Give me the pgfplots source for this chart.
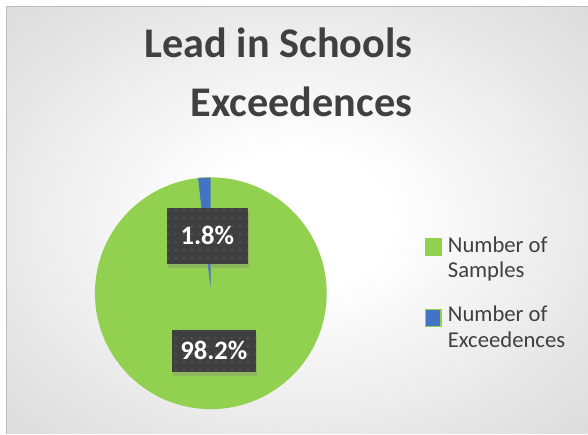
\documentclass[border=0pt]{standalone}
\usepackage{pgfplots}
\usepackage{pgfplotstable}
\pgfplotsset{compat=1.18}
\usepackage{fontspec}
\setmainfont{Carlito}
\usetikzlibrary{patterns.meta,shadows}

\definecolor{piegreen}{HTML}{92D050}
\definecolor{pieblue}{HTML}{4472C4}
\definecolor{txtgray}{HTML}{404040}
\definecolor{boxdark}{HTML}{3F3F3F}
\definecolor{boxdot}{HTML}{5E5E5E}
\definecolor{bggray}{HTML}{C9C9C9}
\definecolor{bordergray}{HTML}{BDBDBD}

\pgfdeclareradialshading{bgshade}{\pgfpoint{0bp}{0bp}}{color(0bp)=(white); color(8bp)=(white); color(50bp)=(bggray)}

\pgfplotstableread{
label value
Samples 98.2
Exceedences 1.8
}\piedata

\pgfplotstablegetelem{0}{value}\of\piedata
\let\valA\pgfplotsretval
\pgfplotstablegetelem{1}{value}\of\piedata
\let\valB\pgfplotsretval
\pgfmathsetmacro\angA{90-3.6*\valA}
\pgfmathsetmacro\angB{\angA-3.6*\valB}

\begin{document}
\begin{tikzpicture}
\begin{axis}[
  x=0.75pt, y=0.75pt,
  xmin=0, xmax=588, ymin=0, ymax=434,
  hide axis, clip=false, scale only axis,
  anchor=origin, at={(0,0)},
]
% page and chart background
\fill[white] (axis cs:0,0) rectangle (axis cs:588,434);
\shade[shading=bgshade] (axis cs:7,0) rectangle (axis cs:588,427);
\draw[bordergray, line width=0.75pt] (axis cs:7,0) -- (axis cs:7,427) -- (axis cs:588,427);

% title
\node[anchor=base east, inner sep=0, text=txtgray, font=\fontsize{31.7}{38}\selectfont\bfseries] at (axis cs:413,376) {Lead in Schools};
\node[anchor=base east, inner sep=0, text=txtgray, font=\fontsize{31.7}{38}\selectfont\bfseries] at (axis cs:413,317) {Exceedences};

% pie slices from the data
\fill[piegreen] (axis cs:211,140.5) -- ++(90:87pt) arc[start angle=90, end angle=\angA, radius=87pt] -- cycle;
\fill[pieblue, draw=piegreen, line width=0.3pt] (axis cs:211,140.5) -- ++(\angA:87pt) arc[start angle=\angA, end angle=\angB, radius=87pt] -- cycle;

% data labels
\node[minimum width=60.75pt, minimum height=42pt, inner sep=0, fill=boxdark,
      postaction={pattern={Dots[distance=6pt, radius=0.7pt]}, pattern color=boxdot},
      drop shadow={shadow xshift=1pt, shadow yshift=-3pt, opacity=0.3},
      text=white, font=\fontsize{20}{24}\selectfont\bfseries] at (axis cs:207.5,198) {1.8\%};
\node[minimum width=63pt, minimum height=31.5pt, inner sep=0, fill=boxdark,
      postaction={pattern={Dots[distance=6pt, radius=0.7pt]}, pattern color=boxdot},
      drop shadow={shadow xshift=1pt, shadow yshift=-3pt, opacity=0.3},
      text=white, font=\fontsize{20}{24}\selectfont\bfseries] at (axis cs:214,83) {98.2\%};

% legend
\fill[piegreen] (axis cs:425,178) rectangle (axis cs:442,196);
\filldraw[fill=pieblue, draw=piegreen, line width=0.9pt] (axis cs:425.6,107.6) rectangle (axis cs:441.4,124.4);
\node[anchor=base west, inner sep=0, text=txtgray, font=\fontsize{17}{20}\selectfont] at (axis cs:448,181) {Number of};
\node[anchor=base west, inner sep=0, text=txtgray, font=\fontsize{17}{20}\selectfont] at (axis cs:448,156) {Samples};
\node[anchor=base west, inner sep=0, text=txtgray, font=\fontsize{17}{20}\selectfont] at (axis cs:448,112) {Number of};
\node[anchor=base west, inner sep=0, text=txtgray, font=\fontsize{17}{20}\selectfont] at (axis cs:448,86) {Exceedences};
\end{axis}
\end{tikzpicture}
\end{document}
